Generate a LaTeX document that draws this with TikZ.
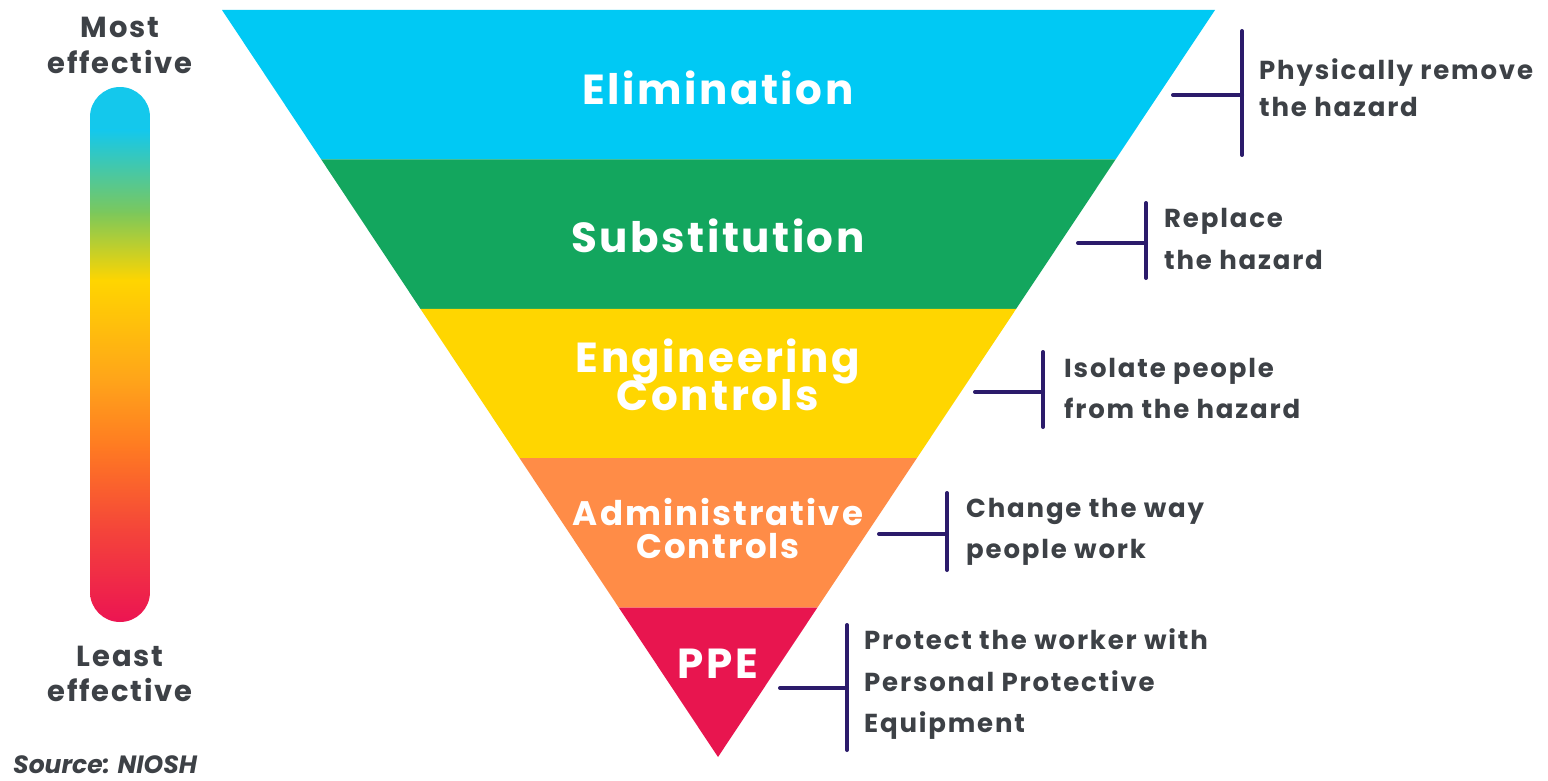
\documentclass[tikz,border=0pt]{standalone}
\usepackage{fontspec}
\setmainfont{Poppins}
\newfontfamily\lblfont{Poppins}[LetterSpace=6]
\newfontfamily\descfont{Poppins}[LetterSpace=7]
\usetikzlibrary{calc}
\definecolor{elimc}{HTML}{00C9F4}
\definecolor{substc}{HTML}{13A65E}
\definecolor{engc}{HTML}{FFD600}
\definecolor{adminc}{HTML}{FF8C47}
\definecolor{ppec}{HTML}{E8154F}
\definecolor{brackc}{HTML}{2B1B6B}
\definecolor{txtc}{HTML}{3D4146}
\definecolor{g1}{HTML}{14C8EC}
\definecolor{g2}{HTML}{7DC85A}
\definecolor{g3}{HTML}{FFD500}
\definecolor{g4}{HTML}{FFA41A}
\definecolor{g5}{HTML}{FF7A22}
\definecolor{g6}{HTML}{F4443A}
\definecolor{g7}{HTML}{EC1452}
\begin{document}
\begin{tikzpicture}[x=1pt,y=-1pt,
  bandlabel/.style={text=white,font=\fontsize{42}{42}\lblfont\bfseries,anchor=base,inner sep=0pt},
  smalllabel/.style={text=white,font=\fontsize{34}{34}\lblfont\bfseries,anchor=base,inner sep=0pt},
  desc/.style={text=txtc,font=\fontsize{26}{26}\descfont\bfseries,anchor=base west,inner sep=0pt},
  sidelabel/.style={text=txtc,font=\fontsize{29}{29}\lblfont\bfseries,anchor=base,inner sep=0pt},
  brack/.style={draw=brackc,line width=4pt,line cap=round}]
\useasboundingbox (0,0) rectangle (1548,781);
\fill[white] (0,0) rectangle (1548,781);
% triangle
\coordinate (TL) at (222,10);
\coordinate (TR) at (1215,10);
\coordinate (AP) at (718,757);
\foreach \i in {0,...,4}{
  \coordinate (L\i) at ($(TL)!\i/5!(AP)$);
  \coordinate (R\i) at ($(TR)!\i/5!(AP)$);
}
\fill[elimc] (L0) -- (R0) -- (R1) -- (L1) -- cycle;
\fill[substc] (L1) -- (R1) -- (R2) -- (L2) -- cycle;
\fill[engc] (L2) -- (R2) -- (R3) -- (L3) -- cycle;
\fill[adminc] (L3) -- (R3) -- (R4) -- (L4) -- cycle;
\fill[ppec] (L4) -- (R4) -- (AP) -- cycle;
% band labels
\node[bandlabel] (elim) at (718,105) {Elimination};
\node[bandlabel] (subst) at (718,252) {Substitution};
\node[bandlabel] (eng1) at (718,372) {Engineering};
\node[bandlabel] (eng2) at (718,410) {Controls};
\node[smalllabel] (adm1) at (718,525) {Administrative};
\node[smalllabel] (adm2) at (718,558) {Controls};
\node[bandlabel] (ppe) at (718,678) {PPE};
% effectiveness bar
\begin{scope}
  \clip[rounded corners=30pt] (90,87) rectangle (150,622);
  \fill[g1] (90,87) rectangle (150,131);
  \shade[top color=g1,bottom color=g2] (90,130) rectangle (150,214);
  \shade[top color=g2,bottom color=g3] (90,213) rectangle (150,281);
  \shade[top color=g3,bottom color=g4] (90,280) rectangle (150,381);
  \shade[top color=g4,bottom color=g5] (90,380) rectangle (150,448);
  \shade[top color=g5,bottom color=g6] (90,447) rectangle (150,531);
  \shade[top color=g6,bottom color=g7] (90,530) rectangle (150,622);
\end{scope}
\node[sidelabel] (most1) at (120,38) {Most};
\node[sidelabel] (most2) at (120,74) {effective};
\node[sidelabel] (least1) at (120,666) {Least};
\node[sidelabel] (least2) at (120,701) {effective};
\node[text=txtc,font=\fontsize{25}{25}\selectfont\bfseries\itshape,anchor=base west,inner sep=0pt] (src) at (13,773) {Source: NIOSH};
% descriptions and brackets
\node[desc] (d1a) at (1259,80) {Physically remove};
\node[desc] (d1b) at (1259,117) {the hazard};
\coordinate (b1t) at (1242,31); \coordinate (b1b) at (1242,155);
\coordinate (b1m) at (1242,95); \coordinate (b1l) at (1173,95);
\draw[brack] (b1t) -- (b1b); \draw[brack] (b1l) -- (b1m);

\node[desc] (d2a) at (1164,227) {Replace};
\node[desc] (d2b) at (1164,269) {the hazard};
\coordinate (b2t) at (1146,203); \coordinate (b2b) at (1146,278);
\coordinate (b2m) at (1146,243); \coordinate (b2l) at (1078,243);
\draw[brack] (b2t) -- (b2b); \draw[brack] (b2l) -- (b2m);

\node[desc] (d3a) at (1064,377) {Isolate people};
\node[desc] (d3b) at (1064,418) {from the hazard};
\coordinate (b3t) at (1043,352); \coordinate (b3b) at (1043,427);
\coordinate (b3m) at (1043,392); \coordinate (b3l) at (975,392);
\draw[brack] (b3t) -- (b3b); \draw[brack] (b3l) -- (b3m);

\node[desc] (d4a) at (966,517) {Change the way};
\node[desc] (d4b) at (966,558) {people work};
\coordinate (b4t) at (947,493); \coordinate (b4b) at (947,570);
\coordinate (b4m) at (947,534); \coordinate (b4l) at (879,534);
\draw[brack] (b4t) -- (b4b); \draw[brack] (b4l) -- (b4m);

\node[desc] (d5a) at (864,649) {Protect the worker with};
\node[desc] (d5b) at (864,691) {Personal Protective};
\node[desc] (d5c) at (864,732) {Equipment};
\coordinate (b5t) at (847,625); \coordinate (b5b) at (847,750);
\coordinate (b5m) at (847,688); \coordinate (b5l) at (780,688);
\draw[brack] (b5t) -- (b5b); \draw[brack] (b5l) -- (b5m);
\end{tikzpicture}
\end{document}
